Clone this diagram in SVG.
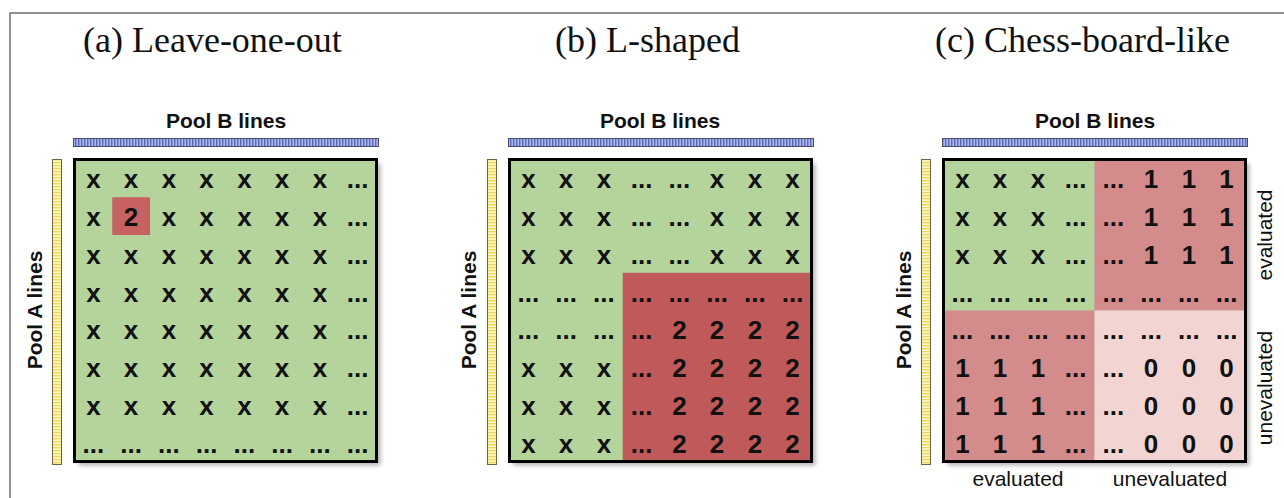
<svg xmlns="http://www.w3.org/2000/svg" width="1284" height="498" viewBox="0 0 1284 498">
<style>
.title{font-family:"Liberation Serif","Times New Roman",serif;font-size:36px;fill:#111}
.pool{font-family:"Liberation Sans",Arial,sans-serif;font-size:21px;font-weight:bold;fill:#111;text-anchor:middle}
.c{font-family:"Liberation Sans",Arial,sans-serif;font-size:26px;font-weight:bold;fill:#111;text-anchor:middle}
.ev{font-family:"Liberation Sans",Arial,sans-serif;font-size:21px;fill:#111;text-anchor:middle}
.box{fill:none;stroke:#000;stroke-width:3}
.shadow{fill:#777;opacity:0.55;filter:url(#blur)}
.barB{fill:url(#blueStripes);stroke:#4a4f66;stroke-width:1}
.barA{fill:url(#yellowStripes);stroke:#6b6540;stroke-width:1}
.green{fill:#b5d49c}
.red{fill:#c05a5a}
.red2{fill:#d48b8b}
.pink{fill:#f2d5d3}
</style>
<defs>
<filter id="blur" x="-5%" y="-5%" width="110%" height="110%"><feGaussianBlur stdDeviation="2"/></filter>
<pattern id="blueStripes" width="3" height="10" patternUnits="userSpaceOnUse"><rect width="3" height="10" fill="#aeb8e8"/><rect width="1.4" height="10" fill="#5869bf"/></pattern>
<pattern id="yellowStripes" width="10" height="3" patternUnits="userSpaceOnUse"><rect width="10" height="3" fill="#fcf6c0"/><rect width="10" height="1.3" fill="#ecd75c"/></pattern>
</defs>
<rect width="1284" height="498" fill="#fff"/>
<g id="frame"><path d="M10 498 V13 H1284" fill="none" stroke="#6e6e6e" stroke-width="1.5"/></g>

<!-- Panel A -->
<g id="panel-a">
<text id="title-a" class="title" x="83" y="52">(a) Leave-one-out</text>
<g id="poolB-a"><text class="pool" x="226" y="128">Pool B lines</text><rect class="barB" x="73.5" y="138.5" width="305" height="8"/></g>
<g id="poolA-a"><text class="pool" transform="translate(42,310) rotate(-90)">Pool A lines</text><rect class="barA" x="52.5" y="159.5" width="9" height="305"/></g>
<g id="grid-a">
<rect class="shadow" x="78.5" y="163.5" width="302" height="302"/>
<rect class="green" x="74.5" y="159.5" width="302" height="302"/>
<rect fill="#c76262" x="112.25" y="197.25" width="37.75" height="37.75"/>
<rect class="box" x="74.5" y="159.5" width="302" height="302"/>
<g id="cells-a">
<text class="c" x="93.4" y="188.4">x</text><text class="c" x="131.1" y="188.4">x</text><text class="c" x="168.9" y="188.4">x</text><text class="c" x="206.6" y="188.4">x</text><text class="c" x="244.4" y="188.4">x</text><text class="c" x="282.1" y="188.4">x</text><text class="c" x="319.9" y="188.4">x</text><text class="c" x="357.6" y="188.4">...</text>
<text class="c" x="93.4" y="226.1">x</text><text class="c" x="131.1" y="226.1">2</text><text class="c" x="168.9" y="226.1">x</text><text class="c" x="206.6" y="226.1">x</text><text class="c" x="244.4" y="226.1">x</text><text class="c" x="282.1" y="226.1">x</text><text class="c" x="319.9" y="226.1">x</text><text class="c" x="357.6" y="226.1">...</text>
<text class="c" x="93.4" y="263.9">x</text><text class="c" x="131.1" y="263.9">x</text><text class="c" x="168.9" y="263.9">x</text><text class="c" x="206.6" y="263.9">x</text><text class="c" x="244.4" y="263.9">x</text><text class="c" x="282.1" y="263.9">x</text><text class="c" x="319.9" y="263.9">x</text><text class="c" x="357.6" y="263.9">...</text>
<text class="c" x="93.4" y="301.6">x</text><text class="c" x="131.1" y="301.6">x</text><text class="c" x="168.9" y="301.6">x</text><text class="c" x="206.6" y="301.6">x</text><text class="c" x="244.4" y="301.6">x</text><text class="c" x="282.1" y="301.6">x</text><text class="c" x="319.9" y="301.6">x</text><text class="c" x="357.6" y="301.6">...</text>
<text class="c" x="93.4" y="339.4">x</text><text class="c" x="131.1" y="339.4">x</text><text class="c" x="168.9" y="339.4">x</text><text class="c" x="206.6" y="339.4">x</text><text class="c" x="244.4" y="339.4">x</text><text class="c" x="282.1" y="339.4">x</text><text class="c" x="319.9" y="339.4">x</text><text class="c" x="357.6" y="339.4">...</text>
<text class="c" x="93.4" y="377.1">x</text><text class="c" x="131.1" y="377.1">x</text><text class="c" x="168.9" y="377.1">x</text><text class="c" x="206.6" y="377.1">x</text><text class="c" x="244.4" y="377.1">x</text><text class="c" x="282.1" y="377.1">x</text><text class="c" x="319.9" y="377.1">x</text><text class="c" x="357.6" y="377.1">...</text>
<text class="c" x="93.4" y="414.9">x</text><text class="c" x="131.1" y="414.9">x</text><text class="c" x="168.9" y="414.9">x</text><text class="c" x="206.6" y="414.9">x</text><text class="c" x="244.4" y="414.9">x</text><text class="c" x="282.1" y="414.9">x</text><text class="c" x="319.9" y="414.9">x</text><text class="c" x="357.6" y="414.9">...</text>
<text class="c" x="93.4" y="452.6">...</text><text class="c" x="131.1" y="452.6">...</text><text class="c" x="168.9" y="452.6">...</text><text class="c" x="206.6" y="452.6">...</text><text class="c" x="244.4" y="452.6">...</text><text class="c" x="282.1" y="452.6">...</text><text class="c" x="319.9" y="452.6">...</text><text class="c" x="357.6" y="452.6">...</text>
</g>
</g>
</g>

<!-- Panel B -->
<g id="panel-b">
<text id="title-b" class="title" x="555" y="52">(b) L-shaped</text>
<g id="poolB-b"><text class="pool" x="660" y="128">Pool B lines</text><rect class="barB" x="508.5" y="138.5" width="305" height="8"/></g>
<g id="poolA-b"><text class="pool" transform="translate(476,310) rotate(-90)">Pool A lines</text><rect class="barA" x="487.5" y="159.5" width="9" height="305"/></g>
<g id="grid-b">
<rect class="shadow" x="513.5" y="163.5" width="302" height="302"/>
<rect class="green" x="509.5" y="159.5" width="302" height="302"/>
<rect class="red" x="622.75" y="272.75" width="188.75" height="188.75"/>
<rect class="box" x="509.5" y="159.5" width="302" height="302"/>
<g id="cells-b">
<text class="c" x="528.4" y="188.4">x</text><text class="c" x="566.1" y="188.4">x</text><text class="c" x="603.9" y="188.4">x</text><text class="c" x="641.6" y="188.4">...</text><text class="c" x="679.4" y="188.4">...</text><text class="c" x="717.1" y="188.4">x</text><text class="c" x="754.9" y="188.4">x</text><text class="c" x="792.6" y="188.4">x</text>
<text class="c" x="528.4" y="226.1">x</text><text class="c" x="566.1" y="226.1">x</text><text class="c" x="603.9" y="226.1">x</text><text class="c" x="641.6" y="226.1">...</text><text class="c" x="679.4" y="226.1">...</text><text class="c" x="717.1" y="226.1">x</text><text class="c" x="754.9" y="226.1">x</text><text class="c" x="792.6" y="226.1">x</text>
<text class="c" x="528.4" y="263.9">x</text><text class="c" x="566.1" y="263.9">x</text><text class="c" x="603.9" y="263.9">x</text><text class="c" x="641.6" y="263.9">...</text><text class="c" x="679.4" y="263.9">...</text><text class="c" x="717.1" y="263.9">x</text><text class="c" x="754.9" y="263.9">x</text><text class="c" x="792.6" y="263.9">x</text>
<text class="c" x="528.4" y="301.6">...</text><text class="c" x="566.1" y="301.6">...</text><text class="c" x="603.9" y="301.6">...</text><text class="c" x="641.6" y="301.6">...</text><text class="c" x="679.4" y="301.6">...</text><text class="c" x="717.1" y="301.6">...</text><text class="c" x="754.9" y="301.6">...</text><text class="c" x="792.6" y="301.6">...</text>
<text class="c" x="528.4" y="339.4">...</text><text class="c" x="566.1" y="339.4">...</text><text class="c" x="603.9" y="339.4">...</text><text class="c" x="641.6" y="339.4">...</text><text class="c" x="679.4" y="339.4">2</text><text class="c" x="717.1" y="339.4">2</text><text class="c" x="754.9" y="339.4">2</text><text class="c" x="792.6" y="339.4">2</text>
<text class="c" x="528.4" y="377.1">x</text><text class="c" x="566.1" y="377.1">x</text><text class="c" x="603.9" y="377.1">x</text><text class="c" x="641.6" y="377.1">...</text><text class="c" x="679.4" y="377.1">2</text><text class="c" x="717.1" y="377.1">2</text><text class="c" x="754.9" y="377.1">2</text><text class="c" x="792.6" y="377.1">2</text>
<text class="c" x="528.4" y="414.9">x</text><text class="c" x="566.1" y="414.9">x</text><text class="c" x="603.9" y="414.9">x</text><text class="c" x="641.6" y="414.9">...</text><text class="c" x="679.4" y="414.9">2</text><text class="c" x="717.1" y="414.9">2</text><text class="c" x="754.9" y="414.9">2</text><text class="c" x="792.6" y="414.9">2</text>
<text class="c" x="528.4" y="452.6">x</text><text class="c" x="566.1" y="452.6">x</text><text class="c" x="603.9" y="452.6">x</text><text class="c" x="641.6" y="452.6">...</text><text class="c" x="679.4" y="452.6">2</text><text class="c" x="717.1" y="452.6">2</text><text class="c" x="754.9" y="452.6">2</text><text class="c" x="792.6" y="452.6">2</text>
</g>
</g>
</g>

<!-- Panel C -->
<g id="panel-c">
<text id="title-c" class="title" x="935" y="52">(c) Chess-board-like</text>
<g id="poolB-c"><text class="pool" x="1095" y="128">Pool B lines</text><rect class="barB" x="942.5" y="138.5" width="305" height="8"/></g>
<g id="poolA-c"><text class="pool" transform="translate(911,310) rotate(-90)">Pool A lines</text><rect class="barA" x="921.5" y="159.5" width="9" height="305"/></g>
<g id="grid-c">
<rect class="shadow" x="947.5" y="163.5" width="302" height="302"/>
<rect class="green" x="943.5" y="159.5" width="151" height="151"/>
<rect class="red2" x="1094.5" y="159.5" width="151" height="151"/>
<rect class="red2" x="943.5" y="310.5" width="151" height="151"/>
<rect class="pink" x="1094.5" y="310.5" width="151" height="151"/>
<rect class="box" x="943.5" y="159.5" width="302" height="302"/>
<g id="cells-c">
<text class="c" x="962.4" y="188.4">x</text><text class="c" x="1000.1" y="188.4">x</text><text class="c" x="1037.9" y="188.4">x</text><text class="c" x="1075.6" y="188.4">...</text><text class="c" x="1113.4" y="188.4">...</text><text class="c" x="1151.1" y="188.4">1</text><text class="c" x="1188.9" y="188.4">1</text><text class="c" x="1226.6" y="188.4">1</text>
<text class="c" x="962.4" y="226.1">x</text><text class="c" x="1000.1" y="226.1">x</text><text class="c" x="1037.9" y="226.1">x</text><text class="c" x="1075.6" y="226.1">...</text><text class="c" x="1113.4" y="226.1">...</text><text class="c" x="1151.1" y="226.1">1</text><text class="c" x="1188.9" y="226.1">1</text><text class="c" x="1226.6" y="226.1">1</text>
<text class="c" x="962.4" y="263.9">x</text><text class="c" x="1000.1" y="263.9">x</text><text class="c" x="1037.9" y="263.9">x</text><text class="c" x="1075.6" y="263.9">...</text><text class="c" x="1113.4" y="263.9">...</text><text class="c" x="1151.1" y="263.9">1</text><text class="c" x="1188.9" y="263.9">1</text><text class="c" x="1226.6" y="263.9">1</text>
<text class="c" x="962.4" y="301.6">...</text><text class="c" x="1000.1" y="301.6">...</text><text class="c" x="1037.9" y="301.6">...</text><text class="c" x="1075.6" y="301.6">...</text><text class="c" x="1113.4" y="301.6">...</text><text class="c" x="1151.1" y="301.6">...</text><text class="c" x="1188.9" y="301.6">...</text><text class="c" x="1226.6" y="301.6">...</text>
<text class="c" x="962.4" y="339.4">...</text><text class="c" x="1000.1" y="339.4">...</text><text class="c" x="1037.9" y="339.4">...</text><text class="c" x="1075.6" y="339.4">...</text><text class="c" x="1113.4" y="339.4">...</text><text class="c" x="1151.1" y="339.4">...</text><text class="c" x="1188.9" y="339.4">...</text><text class="c" x="1226.6" y="339.4">...</text>
<text class="c" x="962.4" y="377.1">1</text><text class="c" x="1000.1" y="377.1">1</text><text class="c" x="1037.9" y="377.1">1</text><text class="c" x="1075.6" y="377.1">...</text><text class="c" x="1113.4" y="377.1">...</text><text class="c" x="1151.1" y="377.1">0</text><text class="c" x="1188.9" y="377.1">0</text><text class="c" x="1226.6" y="377.1">0</text>
<text class="c" x="962.4" y="414.9">1</text><text class="c" x="1000.1" y="414.9">1</text><text class="c" x="1037.9" y="414.9">1</text><text class="c" x="1075.6" y="414.9">...</text><text class="c" x="1113.4" y="414.9">...</text><text class="c" x="1151.1" y="414.9">0</text><text class="c" x="1188.9" y="414.9">0</text><text class="c" x="1226.6" y="414.9">0</text>
<text class="c" x="962.4" y="452.6">1</text><text class="c" x="1000.1" y="452.6">1</text><text class="c" x="1037.9" y="452.6">1</text><text class="c" x="1075.6" y="452.6">...</text><text class="c" x="1113.4" y="452.6">...</text><text class="c" x="1151.1" y="452.6">0</text><text class="c" x="1188.9" y="452.6">0</text><text class="c" x="1226.6" y="452.6">0</text>
</g>
</g>
<g id="labels-c">
<text class="ev" transform="translate(1272,235) rotate(-90)">evaluated</text>
<text class="ev" transform="translate(1272,388) rotate(-90)">unevaluated</text>
<text class="ev" x="1018" y="486">evaluated</text>
<text class="ev" x="1170" y="486">unevaluated</text>
</g>
</g>
</svg>
